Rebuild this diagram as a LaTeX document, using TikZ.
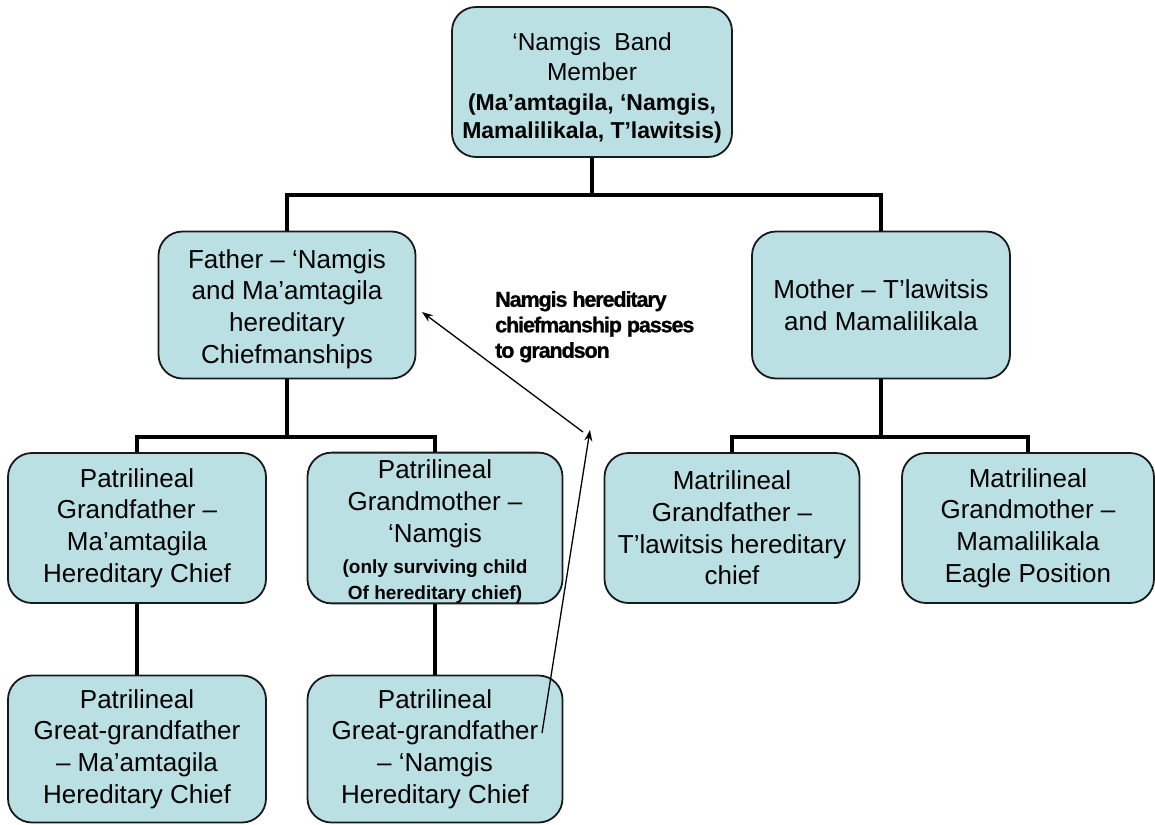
\documentclass[tikz,border=0pt]{standalone}
\usepackage{fontspec}
\setmainfont{Liberation Sans}
\newfontfamily\heavyfont[FakeBold=1, LetterSpace=-5]{Liberation Sans}
\usetikzlibrary{arrows.meta}
\definecolor{boxfill}{RGB}{187,224,227}
\definecolor{boxdraw}{RGB}{25,25,25}
\tikzset{
  box/.style={draw=boxdraw, line width=1.8pt, fill=boxfill, rounded corners=24pt,
    minimum width=256pt, minimum height=148pt, align=center, inner sep=0pt,
    font=\fontsize{26}{31.7}\selectfont},
  conn/.style={line width=4.5pt, draw=black},
  passarrow/.style={line width=1.3pt, -{Stealth[length=11pt,width=8pt]}},
  note/.style={align=left, inner sep=0pt, font=\heavyfont\bfseries\fontsize{21.5}{25.5}\selectfont}
}
\begin{document}
\begin{tikzpicture}[x=1pt,y=-1pt]
\useasboundingbox (0,0) rectangle (1155,824);
% nodes
\node[box, minimum width=280pt, minimum height=150pt, font=\fontsize{24.5}{30}\selectfont] (top) at (592,82)
  {\rule{0pt}{30pt}‘Namgis\ \ Band\\ Member\\ {\fontsize{23}{28}\selectfont\bfseries (Ma’amtagila, ‘Namgis,}\\[-1.5pt] {\fontsize{23}{28}\selectfont\bfseries Mamalilikala, T’lawitsis)}};
\node[box, minimum width=257pt, minimum height=147pt] (father) at (287,305)
  {\rule{0pt}{27pt}Father – ‘Namgis\\ and Ma’amtagila\\ hereditary\\ Chiefmanships};
\node[box, minimum width=258pt, minimum height=147pt] (mother) at (881,305)
  {Mother – T’lawitsis\\ and Mamalilikala};
\node[box, minimum width=258pt, minimum height=150pt] (pgf) at (137,528)
  {Patrilineal\\ Grandfather –\\ Ma’amtagila\\ Hereditary Chief};
\node[box, minimum width=255pt, minimum height=150pt] (pgm) at (435,528)
  {\rule{0pt}{26pt}Patrilineal\\ Grandmother –\\ ‘Namgis\\ {\fontsize{19}{21.5}\selectfont\bfseries (only surviving child}\\[-6pt] {\fontsize{19}{21.5}\selectfont\bfseries Of hereditary chief)}};
\node[box, minimum width=255pt, minimum height=150pt] (mgf) at (732,528)
  {Matrilineal\\ Grandfather –\\ T’lawitsis hereditary\\ chief};
\node[box, minimum width=252pt, minimum height=150pt] (mgm) at (1028,528)
  {Matrilineal\\ Grandmother –\\ Mamalilikala\\ Eagle Position};
\node[box, minimum width=258pt, minimum height=147pt] (pggf) at (137,749)
  {Patrilineal\\ Great-grandfather\\ – Ma’amtagila\\ Hereditary Chief};
\node[box, minimum width=255pt, minimum height=147pt] (pggm) at (435,749)
  {Patrilineal\\ Great-grandfather\\ – ‘Namgis\\ Hereditary Chief};
\node[note, anchor=north west] (lbl) at (495,291)
  {Namgis hereditary\\ chiefmanship passes\\ to grandson};
% bus points
\coordinate (b1) at (592,195);
\coordinate (c1) at (287,437);
\coordinate (c2) at (881,437);
\draw[conn] (top.south) -- (b1);
\draw[conn] (father.north) |- (b1) -| (mother.north);
\draw[conn] (father.south) -- (c1);
\draw[conn] (pgf.north) |- (c1) -| (pgm.north);
\draw[conn] (mother.south) -- (c2);
\draw[conn] (mgf.north) |- (c2) -| (mgm.north);
\draw[conn] (pgf.south) -- (pggf.north);
\draw[conn] (pgm.south) -- (pggm.north);
% arrows
\coordinate (a0) at (542,733);
\coordinate (a1) at (590,430);
\coordinate (a2) at (583,432);
\coordinate (a3) at (422,312);
\draw[passarrow] (a0) -- (a1);
\draw[passarrow] (a2) -- (a3);
\end{tikzpicture}
\end{document}
